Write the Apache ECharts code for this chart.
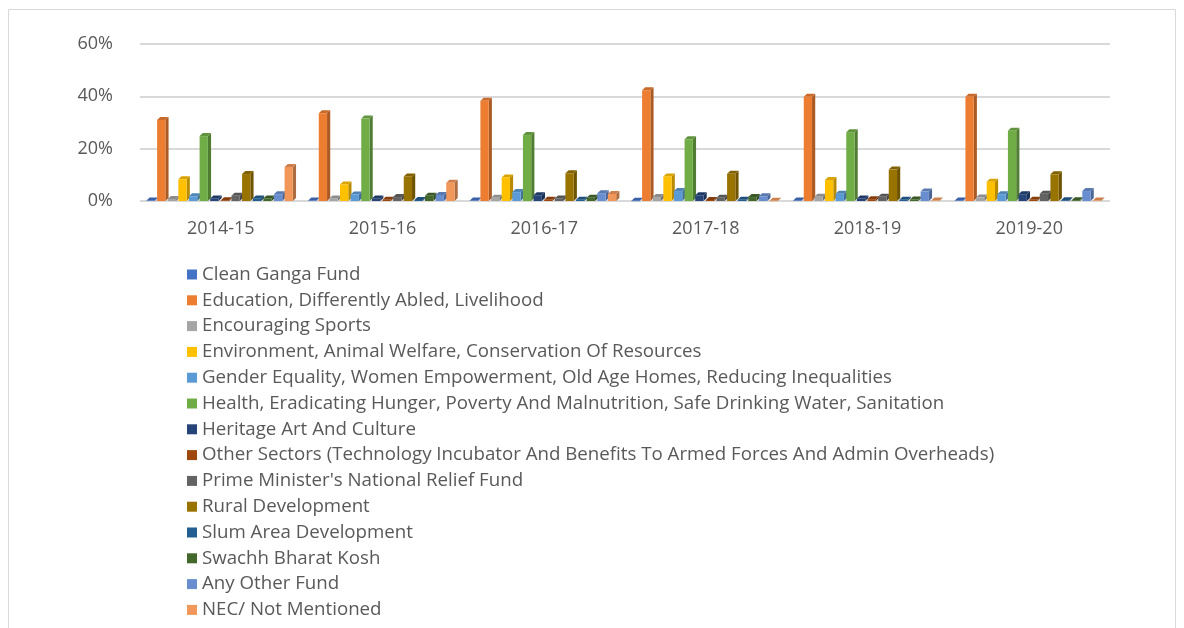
<!DOCTYPE html>
<html>
<head>
<meta charset="utf-8">
<script src="https://cdn.jsdelivr.net/npm/echarts@6/dist/echarts.min.js"></script>
<style>
html,body{margin:0;padding:0;background:#fff;}
#chart{width:1184px;height:628px;}
</style>
</head>
<body>
<div id="chart"></div>
<script>
const categories = ['2014-15','2015-16','2016-17','2017-18','2018-19','2019-20'];
const seriesNames = [
  'Clean Ganga Fund',
  'Education, Differently Abled, Livelihood',
  'Encouraging Sports',
  'Environment, Animal Welfare, Conservation Of Resources',
  'Gender Equality, Women Empowerment, Old Age Homes, Reducing Inequalities',
  'Health, Eradicating Hunger, Poverty And Malnutrition, Safe Drinking Water, Sanitation',
  'Heritage Art And Culture',
  'Other Sectors (Technology Incubator And Benefits To Armed Forces And Admin Overheads)',
  "Prime Minister's National Relief Fund",
  'Rural Development',
  'Slum Area Development',
  'Swachh Bharat Kosh',
  'Any Other Fund',
  'NEC/ Not Mentioned'
];
const colors = ['#4472C4','#ED7D31','#A5A5A5','#FFC000','#5B9BD5','#70AD47','#264478','#9E480E','#636363','#997300','#255E91','#43682B','#698ED0','#F1975A'];
const cleanGanga   = [0.2, 0.2, 0.2, 0.1, 0.2, 0.2];
const education    = [31.0, 33.5, 38.3, 42.3, 39.8, 39.8];
const sports       = [0.8, 1.0, 1.2, 1.5, 1.6, 1.3];
const environment  = [8.3, 6.3, 9.0, 9.4, 8.0, 7.4];
const gender       = [1.8, 2.5, 3.4, 3.8, 2.8, 2.6];
const health       = [24.8, 31.5, 25.2, 23.6, 26.3, 26.8];
const heritage     = [1.0, 1.0, 2.2, 2.2, 1.0, 2.6];
const otherSectors = [0.3, 0.5, 0.5, 0.4, 0.7, 0.5];
const pmRelief     = [2.0, 1.5, 1.0, 1.2, 1.6, 2.8];
const rural        = [10.3, 9.4, 10.6, 10.4, 12.0, 10.2];
const slum         = [1.0, 0.4, 0.5, 0.5, 0.5, 0.3];
const swachh       = [1.0, 2.0, 1.2, 1.5, 0.6, 0.3];
const anyOther     = [2.6, 2.3, 3.0, 1.8, 3.6, 3.8];
const nec          = [13.0, 7.0, 2.7, 0.1, 0.2, 0.2];
const yTicks = [0, 20, 40, 60];

const allData = [cleanGanga, education, sports, environment, gender, health, heritage, otherSectors, pmRelief, rural, slum, swachh, anyOther, nec];
const N = allData.length;

function shade(hex, f) {
  const r = parseInt(hex.slice(1,3),16), g = parseInt(hex.slice(3,5),16), b = parseInt(hex.slice(5,7),16);
  const c = v => Math.max(0, Math.min(255, Math.round(v*f)));
  return 'rgb(' + c(r) + ',' + c(g) + ',' + c(b) + ')';
}

function makeRender(si) {
  const col = colors[si];
  return function(params, api) {
    const ci = api.value(0), v = api.value(1);
    const band = api.size([1, 0])[0];
    const groupW = band * 0.92;
    const slot = groupW / N;
    const center = api.coord([ci, 0]);
    const x0 = center[0] - groupW / 2 + si * slot;
    const base = center[1];
    const top = api.coord([ci, v])[1];
    const w = slot * 0.78;
    const dx = slot * 0.3, dy = 3;
    return {
      type: 'group',
      children: [
        { type: 'polygon', shape: { points: [[x0+w, top], [x0+w+dx, top-dy], [x0+w+dx, base-dy], [x0+w, base]] }, style: { fill: shade(col, 0.72) } },
        { type: 'polygon', shape: { points: [[x0, top], [x0+w, top], [x0+w+dx, top-dy], [x0+dx, top-dy]] }, style: { fill: shade(col, 0.85) } },
        { type: 'rect', shape: { x: x0, y: top, width: w, height: Math.max(base - top, 0.5) }, style: { fill: col } }
      ]
    };
  };
}

const series = seriesNames.map((name, si) => ({
  name: name,
  type: 'custom',
  renderItem: makeRender(si),
  itemStyle: { color: colors[si] },
  encode: { x: 0, y: 1 },
  data: allData[si].map((v, ci) => [ci, v])
}));

const chart = echarts.init(document.getElementById('chart'));
chart.setOption({
  animation: false,
  backgroundColor: '#fff',
  textStyle: { fontFamily: 'Open Sans' },
  graphic: [{
    type: 'rect', shape: { x: 8.5, y: 9.5, width: 1167, height: 640 },
    style: { fill: 'none', stroke: '#d9d9d9', lineWidth: 1 }, silent: true
  }],
  grid: { left: 140, right: 74, top: 44, bottom: 427, containLabel: false },
  legend: {
    orient: 'vertical', left: 182, top: 260, height: 420, width: 950,
    icon: 'rect', itemWidth: 10, itemHeight: 10, itemGap: 6.8,
    textStyle: { fontFamily: 'Open Sans', fontSize: 18.7, color: '#595959' },
    data: seriesNames
  },
  xAxis: {
    type: 'category', data: categories,
    axisLine: { show: false }, axisTick: { show: false },
    axisLabel: { fontFamily: 'Open Sans', fontSize: 18, color: '#595959', margin: 19 }
  },
  yAxis: {
    type: 'value', min: 0, max: 60, interval: 20,
    axisLine: { show: false }, axisTick: { show: false },
    axisLabel: { fontFamily: 'Open Sans', fontSize: 18, color: '#595959', margin: 27,
      formatter: v => yTicks.indexOf(v) >= 0 ? v + '%' : '' },
    splitLine: { lineStyle: { color: '#d9d9d9', width: 2 } }
  },
  series: series
});
</script>
</body>
</html>
